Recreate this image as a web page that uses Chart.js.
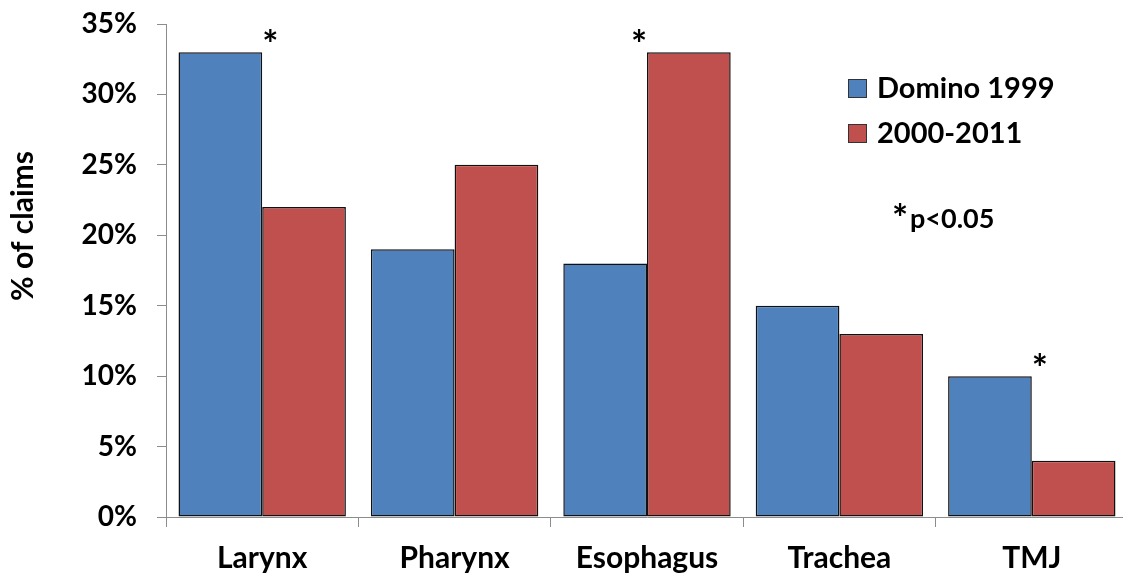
<!DOCTYPE html>
<html>
<head>
<meta charset="utf-8">
<script src="https://cdn.jsdelivr.net/npm/chart.js@4/dist/chart.umd.min.js"></script>
<style>
  html, body { margin: 0; padding: 0; background: #fff; overflow: hidden; width: 1123px; height: 580px; }
  #wrap { position: absolute; left: 0; top: 0; width: 1140px; height: 580px; }
</style>
</head>
<body>
<div id="wrap"><canvas id="c"></canvas></div>
<script>
const categories = ["Larynx", "Pharynx", "Esophagus", "Trachea", "TMJ"];
const seriesNames = ["Domino 1999", "2000-2011"];
const domino1999 = [33, 19, 18, 15, 10];
const period2000_2011 = [22, 25, 33, 13, 4];
const significant = [true, false, true, false, true];
const yTicks = [0, 5, 10, 15, 20, 25, 30, 35];
const yTitle = "% of claims";
const noteText = "p<0.05";

const FONT = "Lato, 'Open Sans', sans-serif";
const BLUE = "#4F81BD", RED = "#C0504D";

const overlay = {
  id: "overlay",
  afterDraw(chart) {
    const ctx = chart.ctx;
    const y = chart.scales.y;
    ctx.save();
    ctx.fillStyle = "#000";
    ctx.font = "bold 30px " + FONT;
    ctx.textAlign = "center";
    ctx.textBaseline = "middle";
    ctx.translate(23, 226);
    ctx.rotate(-Math.PI / 2);
    ctx.fillText(yTitle, 0, 0);
    ctx.restore();

    // significance asterisks, placed beside the top corner of the taller bar
    ctx.save();
    ctx.fillStyle = "#000";
    ctx.font = "bold 38px " + FONT;
    ctx.textAlign = "center";
    ctx.textBaseline = "middle";
    const m0 = chart.getDatasetMeta(0).data, m1 = chart.getDatasetMeta(1).data;
    significant.forEach((s, i) => {
      if (!s) return;
      const firstTaller = domino1999[i] >= period2000_2011[i];
      const bar = firstTaller ? m0[i] : m1[i];
      const edge = firstTaller ? bar.x + bar.width / 2 : bar.x - bar.width / 2;
      const px = edge + (firstTaller ? 8 : -8);
      const py = bar.y - 6;
      ctx.fillText("*", px, py);
    });

    const colors = [BLUE, RED];
    ctx.textAlign = "left";
    ctx.font = "bold 29px " + FONT;
    seriesNames.forEach((n, i) => {
      const cy = 88 + i * 45;
      ctx.fillStyle = colors[i];
      ctx.fillRect(848, cy - 9, 19, 19);
      ctx.strokeStyle = "#333";
      ctx.lineWidth = 1;
      ctx.strokeRect(848.5, cy - 8.5, 18, 18);
      ctx.fillStyle = "#000";
      ctx.fillText(n, 877, cy + 1);
    });

    ctx.font = "bold 38px " + FONT;
    ctx.fillText("*", 892, 220);
    ctx.font = "bold 27px " + FONT;
    ctx.fillText(noteText, 910, 219);
    ctx.restore();
  }
};

new Chart(document.getElementById("c"), {
  type: "bar",
  data: {
    labels: categories,
    datasets: [
      { label: seriesNames[0], data: domino1999, backgroundColor: BLUE, borderColor: "#111", borderWidth: 1.5, borderSkipped: false },
      { label: seriesNames[1], data: period2000_2011, backgroundColor: RED, borderColor: "#111", borderWidth: 1.5, borderSkipped: false }
    ]
  },
  options: {
    responsive: true,
    maintainAspectRatio: false,
    animation: false,
    layout: { padding: { top: 24, right: 12, left: 0, bottom: 0 } },
    plugins: { legend: { display: false }, tooltip: { enabled: false } },
    datasets: { bar: { categoryPercentage: 0.87, barPercentage: 1.0 } },
    scales: {
      x: {
        grid: { display: true, drawOnChartArea: false, drawTicks: true, tickLength: 10, color: "#8c8c8c", offset: true },
        border: { display: true, color: "#8c8c8c", width: 1 },
        ticks: { color: "#000", font: { family: FONT, size: 30, weight: "bold" }, padding: 13, maxRotation: 0 },
        afterFit(s) { s.height = 63; s.paddingLeft = 0; s.paddingRight = 0; }
      },
      y: {
        min: 0, max: 35,
        afterBuildTicks(s) { s.ticks = yTicks.map(v => ({ value: v })); },
        grid: { display: true, drawOnChartArea: false, drawTicks: true, tickLength: 9, color: "#8c8c8c" },
        border: { display: true, color: "#8c8c8c", width: 1 },
        ticks: { color: "#000", font: { family: FONT, size: 28, weight: "bold" }, padding: 20, callback: v => v + "%" },
        afterFit(s) { s.width = 166; s.paddingTop = 0; s.paddingBottom = 0; }
      }
    }
  },
  plugins: [overlay]
});
</script>
</body>
</html>
